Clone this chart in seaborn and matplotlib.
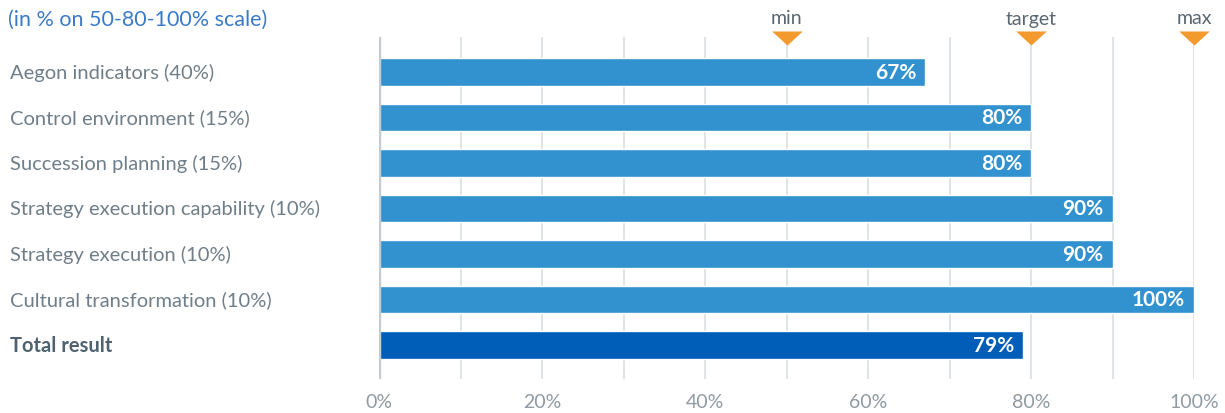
import matplotlib
matplotlib.use("Agg")
import matplotlib.pyplot as plt
import matplotlib.transforms as mtransforms
import seaborn as sns
import pandas as pd

categories = ["Aegon indicators (40%)", "Control environment (15%)", "Succession planning (15%)",
              "Strategy execution capability (10%)", "Strategy execution (10%)",
              "Cultural transformation (10%)", "Total result"]
values = [67, 80, 80, 90, 90, 100, 79]
bar_colors = ["#3192cf"] * 6 + ["#005eb8"]
marker_positions = [50, 80, 100]
marker_labels = ["min", "target", "max"]
xticks = [0, 20, 40, 60, 80, 100]
subtitle = "(in % on 50-80-100% scale)"

sns.set_theme(style="white")
plt.rcParams['font.family'] = ['Lato', 'DejaVu Sans']

fig = plt.figure(figsize=(12.25, 4.14), dpi=100)
ax = fig.add_axes([379/1225, 1-380/414, (1194-379)/1225, (380-38)/414])

df = pd.DataFrame({"cat": categories, "val": values})
sns.barplot(data=df, x="val", y="cat", hue="cat", palette=bar_colors, legend=False,
            width=0.6, ax=ax, saturation=1, zorder=3)

ax.set_xlim(0, 100)
ax.set_ylim(6.75, -0.77)
for s in ax.spines.values():
    s.set_visible(False)
ax.set_xlabel("")
ax.set_ylabel("")
ax.set_yticks([])
ax.set_xticks(xticks)
ax.set_xticklabels([f"{t}%" for t in xticks], color="#8f9aa2", fontsize=14)
ax.tick_params(axis="x", length=0, pad=10)
for g in range(10, 100, 10):
    ax.axvline(g, color="#dcdfe1", lw=1.2, zorder=1)
ax.axvline(100, color="#dcdfe1", lw=1.2, zorder=1)
ax.axvline(0, color="#c5ccd1", lw=2.5, zorder=4)

# bar value labels
for i, v in enumerate(values):
    ax.text(v - 1.1, i, f"{v}%", ha="right", va="center", color="white",
            fontsize=15, fontweight="bold", zorder=5)

# category labels
trans = mtransforms.blended_transform_factory(fig.transFigure, ax.transData)
for i, c in enumerate(categories):
    bold = c == "Total result"
    ax.text(10/1225, i, c, transform=trans, ha="left", va="center",
            color="#4f6270" if bold else "#6f7e88", fontsize=14.5,
            fontweight="bold" if bold else "normal")

# markers (flattened downward triangles)
tri = [(-1, 0.46), (1, 0.46), (0, -0.46), (-1, 0.46)]
mtrans = mtransforms.blended_transform_factory(ax.transData, ax.transAxes)
for p, lab in zip(marker_positions, marker_labels):
    ax.plot([p], [1.0 - 1/342], marker=tri, markersize=22, color="#f39a2e",
            transform=mtrans, clip_on=False, zorder=6, markeredgewidth=0)
    ax.text(p, 1.0 + 19/342, lab, transform=mtrans, ha="center", va="center",
            color="#5b6770", fontsize=14)

fig.text(8/1225, 1-20/414, subtitle, ha="left", va="center", color="#3a7bc8",
         fontsize=15.5)

fig.savefig("out.png", dpi=100)
